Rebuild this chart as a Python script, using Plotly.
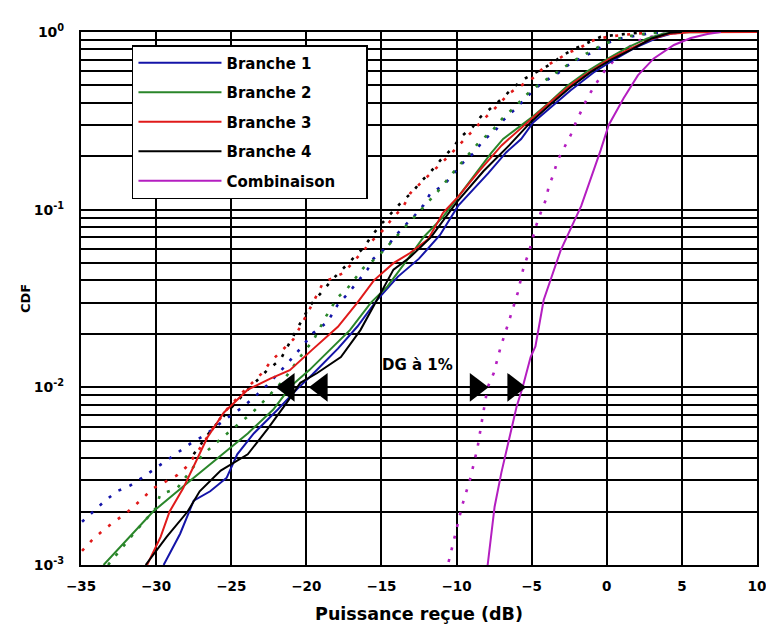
import math
import plotly.graph_objects as go

# ---------------- data ----------------
# Solid curves
b1_x = [-29.5, -28.4, -27.5, -26.4, -25.3, -24.6, -23.5, -21.9, -20.6, -19.6, -17.9, -16.6, -15.3, -13.9, -12.5, -11.1, -9.9, -7.9, -6.7, -5.7, -4.9, -3.7, -2.4, -0.9, 0.5, 1.8, 3.4, 4.5, 5.3]
b1_p = [0.001, 0.0015, 0.0023, 0.0026, 0.0031, 0.0042, 0.0055, 0.0075, 0.0098, 0.0118, 0.0165, 0.022, 0.031, 0.042, 0.053, 0.072, 0.105, 0.16, 0.21, 0.25, 0.31, 0.38, 0.47, 0.59, 0.70, 0.81, 0.93, 0.99, 1.0]

b2_x = [-33.5, -31.9, -30.2, -27.9, -26.2, -23.9, -22.2, -21.0, -19.8, -18.4, -17.1, -15.7, -14.6, -13.3, -12.2, -10.9, -9.9, -8.6, -7.7, -6.9, -5.9, -4.9, -3.7, -2.6, -1.3, 0.1, 1.4, 2.7, 3.8, 5.0, 7.8]
b2_p = [0.001, 0.0014, 0.002, 0.0029, 0.0038, 0.0055, 0.0075, 0.0102, 0.0125, 0.0163, 0.021, 0.03, 0.037, 0.052, 0.07, 0.091, 0.118, 0.167, 0.208, 0.25, 0.29, 0.335, 0.41, 0.50, 0.60, 0.71, 0.82, 0.92, 0.98, 0.998, 1.0]

b3_x = [-30.6, -29.7, -29.1, -28.2, -27.3, -26.6, -25.5, -23.9, -22.4, -21.1, -19.6, -17.9, -16.6, -15.5, -14.2, -13.1, -11.9, -10.9, -9.9, -8.5, -7.0, -5.3, -3.8, -2.2, 0.1, 1.5, 2.8, 4.0, 5.5, 10.0]
b3_p = [0.001, 0.00144, 0.002, 0.0027, 0.0039, 0.0052, 0.0072, 0.0097, 0.0112, 0.0125, 0.0163, 0.0219, 0.03, 0.04, 0.05, 0.057, 0.068, 0.096, 0.118, 0.165, 0.23, 0.31, 0.40, 0.52, 0.70, 0.80, 0.90, 0.97, 0.997, 1.0]

b4_x = [-30.7, -29.3, -27.9, -27.1, -25.7, -23.9, -22.6, -21.3, -20.4, -19.3, -17.7, -16.4, -15.3, -14.2, -13.1, -11.7, -10.0, -8.2, -6.5, -5.0, -3.7, -2.4, -1.0, 0.3, 1.7, 3.0, 4.2, 5.0]
b4_p = [0.001, 0.00144, 0.002, 0.0026, 0.0034, 0.0042, 0.0058, 0.0082, 0.0106, 0.012, 0.0148, 0.021, 0.031, 0.046, 0.054, 0.07, 0.11, 0.165, 0.23, 0.315, 0.395, 0.49, 0.60, 0.70, 0.80, 0.92, 0.99, 1.0]

comb_x = [-7.93, -7.73, -7.47, -7.02, -6.53, -6.0, -5.6, -5.07, -4.75, -4.2, -3.07, -1.7, -0.4, 0.13, 1.13, 2.07, 3.13, 4.47, 5.6, 6.7, 7.6]
comb_p = [0.001, 0.00138, 0.00212, 0.0033, 0.00506, 0.0078, 0.01, 0.0148, 0.017, 0.031, 0.059, 0.105, 0.217, 0.30, 0.425, 0.57, 0.71, 0.845, 0.925, 0.975, 1.0]

# Dotted curves
b1d_x = [-34.93, -34.2, -33.4, -32.6, -31.73, -30.93, -30.07, -29.27, -28.4, -27.6, -26.73, -25.5, -24.27, -23.53, -22.5, -21.3, -20.2, -19.53, -18.6, -17.93, -17.07, -15.93, -15.53, -14.6, -14.2, -13.53, -12.87, -12.2, -11.73, -10.87, -10.27, -9.6, -8.87, -8.2, -7.4, -6.87, -6.07, -5.4, -4.73, -3.93, -3.07, -2.4, -1.6, -0.73, 0.07, 0.93, 1.8, 2.73, 4.0]
b1d_p = [0.00175, 0.002, 0.0023, 0.0026, 0.0028, 0.0031, 0.0035, 0.0039, 0.0044, 0.0049, 0.0054, 0.0065, 0.0077, 0.0087, 0.0105, 0.0135, 0.0173, 0.0203, 0.0233, 0.029, 0.035, 0.046, 0.053, 0.062, 0.069, 0.08, 0.091, 0.106, 0.124, 0.137, 0.157, 0.183, 0.208, 0.246, 0.28, 0.32, 0.37, 0.425, 0.485, 0.54, 0.60, 0.67, 0.72, 0.79, 0.87, 0.92, 0.95, 0.98, 0.997]

b2d_x = [-33.2, -31.5, -30.0, -29.73, -28.6, -26.87, -25.27, -24.4, -23.6, -22.93, -21.5, -20.5, -19.5, -18.7, -17.93, -17.27, -16.2, -15.27, -13.93, -12.6, -11.27, -10.2, -9.3, -8.5, -7.6, -6.9, -6.1, -5.4, -4.6, -3.8, -3.0, -2.2, -1.4, -0.6, 0.3, 1.2, 2.2, 3.5]
b2d_p = [0.001, 0.0015, 0.0021, 0.0025, 0.0027, 0.0042, 0.0055, 0.0063, 0.0072, 0.0082, 0.011, 0.0145, 0.0186, 0.025, 0.032, 0.036, 0.047, 0.054, 0.072, 0.096, 0.126, 0.163, 0.20, 0.24, 0.28, 0.33, 0.38, 0.44, 0.50, 0.56, 0.62, 0.69, 0.75, 0.82, 0.89, 0.94, 0.97, 0.995]

b3d_x = [-34.93, -34.2, -33.4, -32.6, -31.87, -31.07, -30.2, -29.53, -28.6, -27.93, -27.27, -26.2, -25.3, -24.4, -23.6, -22.87, -22.4, -21.53, -20.87, -19.93, -18.87, -17.53, -16.87, -15.53, -14.87, -14.2, -13.6, -13.07, -12.4, -11.73, -10.4, -9.07, -8.4, -7.2, -6.53, -4.93, -4.2, -2.6, -1.73, -0.87, 0.07, 0.93, 2.93]
b3d_p = [0.0012, 0.0014, 0.0016, 0.0018, 0.002, 0.0023, 0.0027, 0.0029, 0.0032, 0.0036, 0.0043, 0.0059, 0.0075, 0.0091, 0.0106, 0.0122, 0.0139, 0.0163, 0.0186, 0.026, 0.039, 0.044, 0.051, 0.068, 0.077, 0.091, 0.102, 0.124, 0.141, 0.16, 0.205, 0.27, 0.31, 0.39, 0.45, 0.55, 0.63, 0.76, 0.82, 0.90, 0.94, 0.96, 0.995]

b4d_x = [-27.5, -26.3, -25.1, -24.0, -22.6, -21.73, -20.4, -19.73, -18.2, -17.4, -16.2, -15.6, -15.07, -14.27, -13.73, -12.93, -12.4, -11.73, -11.07, -10.27, -9.73, -8.93, -8.4, -7.6, -6.87, -6.2, -5.4, -4.6, -3.6, -2.93, -2.07, -1.27, -0.4, 0.47, 2.47]
b4d_p = [0.0042, 0.0058, 0.0075, 0.0095, 0.0125, 0.0143, 0.023, 0.029, 0.041, 0.048, 0.061, 0.072, 0.082, 0.097, 0.109, 0.126, 0.143, 0.163, 0.19, 0.222, 0.256, 0.292, 0.333, 0.38, 0.43, 0.49, 0.55, 0.60, 0.67, 0.74, 0.81, 0.87, 0.94, 0.96, 0.998]

combd_x = [-10.53, -10.07, -9.6, -9.07, -8.6, -8.27, -7.93, -7.53, -7.07, -6.53, -5.93, -5.53, -5.2, -4.93, -4.73, -4.4, -4.07, -3.87, -3.53, -3.27, -2.87, -2.4, -2.07, -1.67, -1.27, -0.73, -0.2, 0.4, 1.13, 2.2, 3.5, 5.0]
combd_p = [0.00104, 0.0015, 0.0022, 0.0031, 0.0046, 0.0068, 0.01, 0.012, 0.0168, 0.0233, 0.034, 0.0476, 0.057, 0.069, 0.08, 0.096, 0.113, 0.134, 0.16, 0.19, 0.222, 0.263, 0.308, 0.364, 0.43, 0.51, 0.595, 0.68, 0.79, 0.90, 0.97, 0.995]

series_names = ["Branche 1", "Branche 2", "Branche 3", "Branche 4", "Combinaison"]
series_colors = ["#1414a8", "#2a862a", "#e01a1a", "#000000", "#b41ec0"]
solid_x = [b1_x, b2_x, b3_x, b4_x, comb_x]
solid_p = [b1_p, b2_p, b3_p, b4_p, comb_p]
dotted_x = [b1d_x, b2d_x, b3d_x, b4d_x, combd_x]
dotted_p = [b1d_p, b2d_p, b3d_p, b4d_p, combd_p]

x_ticks = [-35, -30, -25, -20, -15, -10, -5, 0, 5, 10]
y_ticks = [1e-3, 1e-2, 1e-1, 1]
y_ticktext = ["10<sup>-3</sup>", "10<sup>-2</sup>", "10<sup>-1</sup>", "10<sup>0</sup>"]

# DG annotation arrows (at the 1 % level)
arrow_left_x = [-21.2, -19.0]
arrow_right_x = [-8.7, -6.2]
arrow_level = 0.01
dg_label = "DG à 1%"
dg_label_x = -12.6
dg_label_p = 0.0134

FONT = "DejaVu Sans, Verdana, sans-serif"
LEGEND_PAD = "\u00a0" * 5  # widens the legend box like the reference

fig = go.Figure()

for i in range(5):
    fig.add_trace(go.Scatter(
        x=dotted_x[i], y=dotted_p[i], mode="lines",
        line=dict(color=series_colors[i], width=2.6, dash="3px,9px"),
        showlegend=False, hoverinfo="skip"))

for i in range(5):
    fig.add_trace(go.Scatter(
        x=solid_x[i], y=solid_p[i], mode="lines",
        name=series_names[i] + LEGEND_PAD,
        legendgroup=series_names[i],
        line=dict(color=series_colors[i], width=2)))

fig.add_trace(go.Scatter(
    x=arrow_left_x, y=[arrow_level] * len(arrow_left_x), mode="markers",
    marker=dict(symbol="triangle-left", size=25, color="black"),
    showlegend=False, hoverinfo="skip"))
fig.add_trace(go.Scatter(
    x=arrow_right_x, y=[arrow_level] * len(arrow_right_x), mode="markers",
    marker=dict(symbol="triangle-right", size=25, color="black"),
    showlegend=False, hoverinfo="skip"))

# annotation y on a log axis is given in log10 units
fig.add_annotation(x=dg_label_x, y=math.log10(dg_label_p), yref="y", xref="x",
                   text="<b>" + dg_label + "</b>", showarrow=False,
                   font=dict(family=FONT, size=15, color="black"))

# page body adds an 8 px offset: figure is sized to fit the 774x633 window
fig.update_layout(
    width=766, height=625,
    margin=dict(l=73, r=17, t=24, b=68, autoexpand=False),
    paper_bgcolor="white", plot_bgcolor="white",
    font=dict(family=FONT, size=13, color="black"),
    legend=dict(x=0.0754, y=0.9756, xanchor="left", yanchor="top",
                bgcolor="white", bordercolor="black", borderwidth=1.5,
                font=dict(family=FONT, size=15, color="black", weight="bold"),
                itemwidth=83, tracegroupgap=7, traceorder="grouped"),
    xaxis=dict(range=[-35, 10], tickvals=x_ticks, showgrid=True, automargin=False,
               gridcolor="black", gridwidth=1.6, zeroline=False,
               showline=True, linecolor="black", linewidth=2, mirror=True,
               ticks="", ticklabelstandoff=8,
               tickfont=dict(family=FONT, size=13.5, weight="bold"),
               title=dict(text="<b>Puissance reçue (dB)</b>",
                          font=dict(family=FONT, size=17.5), standoff=15)),
    yaxis=dict(type="log", range=[-3, 0], tickvals=y_ticks, ticktext=y_ticktext,
               showgrid=True, gridcolor="black", gridwidth=1.6, zeroline=False,
               automargin=False,
               showline=True, linecolor="black", linewidth=2, mirror=True,
               ticks="", ticklabelstandoff=12,
               tickfont=dict(family=FONT, size=14, weight="bold"),
               minor=dict(dtick="D1", showgrid=True, gridcolor="black", gridwidth=1.6),
               title=dict(text="<b>CDF</b>", font=dict(family=FONT, size=13), standoff=0)),
)

fig.write_html("out.html")
